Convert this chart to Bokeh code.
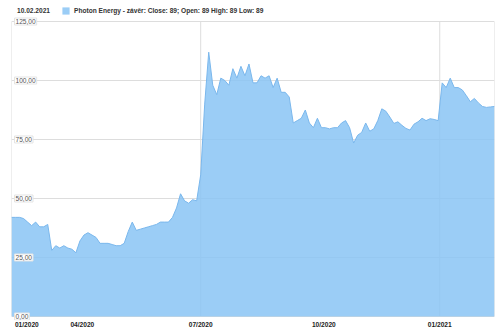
from bokeh.plotting import figure
from bokeh.models import Label, Legend, LegendItem, FixedTicker, Range1d
from bokeh.embed import file_html
from bokeh.resources import INLINE

# Close prices, one value per ~2 trading days, 10.02.2020 .. 10.02.2021
close = [42, 42, 42, 41.5, 40, 38.5, 40, 38, 38, 39,
         28, 30, 29, 30, 29, 28.5, 27, 32, 34.5, 35.5,
         34.5, 33.5, 31, 31, 31, 30.5, 30, 30, 31, 36,
         40, 36.5, 37, 37.5, 38, 38.5, 39, 40, 40, 40,
         42, 46, 52, 49, 48, 49.5, 49, 60, 90, 112,
         98, 94, 101, 100, 98, 105, 101, 106, 102, 107,
         99, 99, 102, 101, 102, 97, 101, 95, 95, 93,
         82, 83, 84, 87.5, 82, 80, 84, 80, 80, 79.5,
         80, 80, 82, 83, 80, 73.5, 76.8, 78, 82, 78.5,
         79.5, 83, 88, 87, 84.5, 81.8, 82.5, 81, 79.7, 79,
         81.5, 82.5, 84, 83, 83.8, 83.5, 83, 99, 97, 101,
         97, 97, 96, 93.6, 91, 92.4, 90.5, 89, 88.6, 88.8,
         89]
idx = list(range(len(close)))
last = len(close) - 1

month_labels = ["01/2020", "04/2020", "07/2020", "10/2020", "01/2021"]
month_pos = [3.8, 17.6, 47, 77.6, 106.4]
y_ticks = [0, 25, 50, 75, 100, 125]
y_tick_labels = ["0,00", "25,00", "50,00", "75,00", "100,00", "125,00"]
date_text = "10.02.2021"
legend_text = "Photon Energy - závěr: Close: 89; Open: 89 High: 89 Low: 89"

p = figure(width=500, height=332, output_backend="svg", toolbar_location=None,
           x_range=Range1d(0, last), y_range=Range1d(-1.7, 133.9),
           min_border_left=11, min_border_right=6, min_border_top=0, min_border_bottom=12)
p.background_fill_color = "white"
p.border_fill_color = "white"
p.outline_line_color = None

# frame edges and half-year vertical grid lines
vx = [0, month_pos[2], month_pos[4], last]
p.segment(x0=vx, y0=[0] * 4, x1=vx, y1=[125] * 4, line_color="#dddddd", line_width=1)

area = p.varea(x=idx, y1=0, y2=close, fill_color="#8AC4F4", fill_alpha=0.85)
p.line(x=idx, y=close, line_color="#7ab7ec", line_width=1)
# invisible renderer that only carries the date entry of the header
blank = p.varea(x=[0, 0], y1=[0, 0], y2=[0, 0], fill_alpha=0)

p.yaxis.visible = False
p.ygrid.ticker = FixedTicker(ticks=y_ticks)
p.ygrid.grid_line_color = "#dddddd"
p.xgrid.visible = False

p.xaxis.ticker = FixedTicker(ticks=month_pos)
p.xaxis.major_label_overrides = {month_pos[i]: month_labels[i] for i in range(5)}
p.xaxis.axis_line_color = None
p.xaxis.major_tick_line_color = None
p.xaxis.minor_tick_line_color = None
p.xaxis.major_tick_out = 0
p.xaxis.major_tick_in = 0
p.xaxis.major_label_standoff = 0
p.xaxis.major_label_text_font = "Liberation Sans"
p.xaxis.major_label_text_font_style = "bold"
p.xaxis.major_label_text_font_size = "6.6px"
p.xaxis.major_label_text_color = "#222222"

for v, t in zip(y_ticks, y_tick_labels):
    p.add_layout(Label(x=0, y=v, text=t, x_offset=3, text_align="left", text_baseline="middle",
                       text_font="Liberation Sans", text_font_size="6.6px", text_color="#555555",
                       background_fill_color="white", border_line_color="#e4e4e4",
                       padding=1))

leg = Legend(items=[LegendItem(label=date_text, renderers=[blank]),
                    LegendItem(label=legend_text, renderers=[area])],
             location=(-7, 305), orientation="horizontal", glyph_width=9, glyph_height=9,
             label_standoff=4, label_height=9,
             label_text_font="Liberation Sans", label_text_font_size="6.6px",
             label_text_font_style="bold", label_text_color="#333333",
             background_fill_alpha=0, border_line_color=None, padding=0, margin=0, spacing=11)
p.add_layout(leg, "center")

open("out.html", "w").write(file_html(p, INLINE))
